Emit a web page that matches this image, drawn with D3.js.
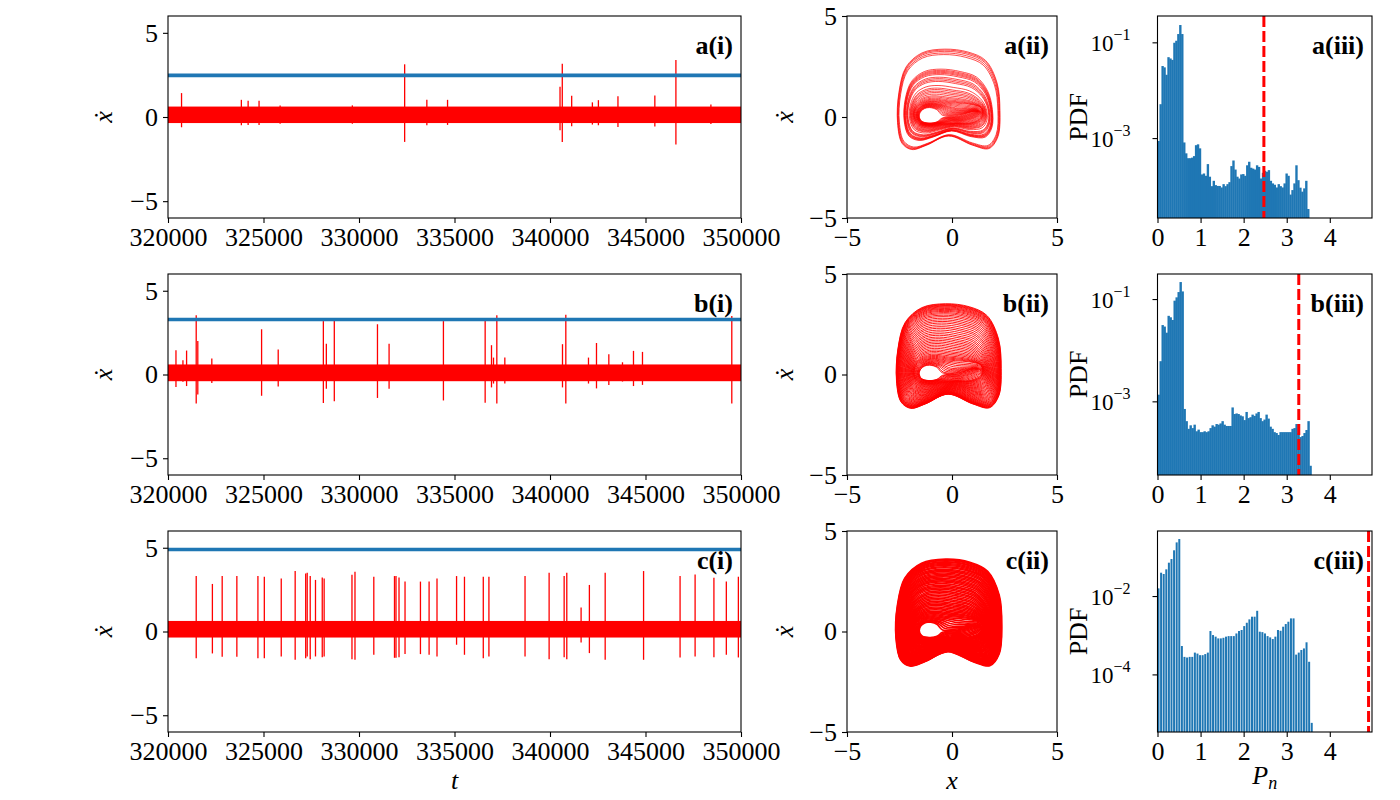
<!DOCTYPE html>
<html>
<head>
<meta charset="utf-8">
<script src="https://cdn.jsdelivr.net/npm/d3@7"></script>
<style>
  body { margin: 0; background: #fff; }
</style>
</head>
<body>
<div id="chart"></div>
<script>
var svgWidth = 1400;
var svgHeight = 800;

// ---- data ----
var rowNames = ["a", "b", "c"];
var tRange = [320000, 350000];
var tTicks = [320000, 325000, 330000, 335000, 340000, 345000, 350000];
var xdotTicks = [-5, 0, 5];
var pnTicks = [0, 1, 2, 3, 4];

// threshold: blue line in (i), dashed red line in (iii)
var thresholds = [2.47, 3.28, 4.9];
// the dense small oscillation of x-dot
var bandLow = [-0.36, -0.4, -0.36];
var bandHigh = [0.62, 0.6, 0.63];

// spikes (time, max, min) in each time series
var spikeTimesA = [320709, 323841, 324195, 324767, 325870, 329652, 332390, 333552, 334636, 340525, 340643, 341135, 342219, 342534, 343558, 345489, 346592, 348424];
var spikeHighA = [1.42, 1.02, 0.96, 0.96, 0.69, 0.69, 3.13, 1.02, 1.02, 1.79, 3.17, 1.26, 0.87, 1.0, 1.24, 1.28, 3.39, 0.75];
var spikeLowA = [-0.61, -0.49, -0.47, -0.47, -0.4, -0.4, -1.48, -0.49, -0.47, -0.79, -1.48, -0.55, -0.45, -0.49, -0.59, -0.57, -1.63, -0.42];

var spikeTimesB = [320417, 320782, 320973, 321477, 321560, 322294, 324900, 325770, 328134, 328290, 328707, 330967, 331575, 334420, 336605, 336937, 337042, 337216, 337635, 340654, 340828, 342015, 342434, 343080, 343795, 344371, 344842, 349518];
var spikeHighB = [1.45, 0.85, 1.43, 3.53, 2.0, 0.95, 2.7, 1.5, 3.19, 1.84, 3.19, 3.0, 1.84, 3.19, 3.23, 1.75, 1.01, 3.53, 1.01, 1.81, 3.57, 1.01, 1.88, 1.21, 0.73, 1.41, 1.35, 3.49];
var spikeLowB = [-0.74, -0.43, -0.69, -1.73, -1.2, -0.5, -1.27, -0.71, -1.7, -0.85, -1.6, -1.4, -0.85, -1.55, -1.69, -0.77, -0.54, -1.73, -0.54, -0.77, -1.73, -0.54, -0.83, -0.62, -0.42, -0.69, -0.62, -1.73];

var spikeTimesC = [321477, 322324, 322837, 323605, 324708, 325043, 325929, 326658, 327209, 327288, 327446, 327722, 328076, 328175, 329632, 329790, 330775, 331858, 331937, 332095, 332410, 333217, 333670, 334084, 335108, 335522, 336507, 336802, 338693, 339954, 340741, 340879, 341628, 342062, 342889, 344899, 346810, 347597, 348582, 349232, 349862];
var spikeHighC = [3.31, 2.84, 3.31, 3.31, 3.31, 3.27, 3.17, 3.61, 3.47, 3.51, 3.31, 3.08, 3.23, 3.17, 3.39, 3.57, 3.27, 3.31, 3.31, 3.23, 2.98, 2.98, 2.98, 3.17, 3.31, 3.27, 3.27, 3.27, 3.31, 3.51, 3.31, 3.51, 1.43, 2.78, 3.51, 3.61, 3.31, 3.41, 3.21, 2.98, 3.27];
var spikeLowC = [-1.59, -1.31, -1.5, -1.5, -1.59, -1.59, -1.49, -1.69, -1.59, -1.49, -1.65, -1.49, -1.53, -1.49, -1.65, -1.69, -1.39, -1.57, -1.57, -1.53, -1.35, -1.35, -1.39, -1.49, -0.79, -1.39, -1.59, -1.49, -1.49, -1.65, -1.53, -1.65, -0.65, -1.29, -1.69, -1.69, -1.55, -1.49, -1.53, -1.39, -1.55];

// phase portrait: three reference cycles (x, x-dot) and their peak x-dot
var coreLoop = [[-1.0, 0.46], [-0.72, 0.36], [-0.45, 0.08], [0.3, 0.08], [1.0, 0.26], [1.22, 0.28], [1.0, 0.22], [0.3, 0.04],
  [-0.45, -0.04], [-0.72, -0.24], [-1.1, -0.3], [-1.45, -0.2], [-1.56, 0.05], [-1.48, 0.28], [-1.3, 0.42], [-1.15, 0.46]];
var innerLoop = [[-0.8, 0.8], [-0.2, 0.72], [0.5, 0.66], [1.0, 0.6], [1.35, 0.48], [1.45, 0.2], [1.3, -0.1], [0.8, -0.3],
  [0.2, -0.3], [-0.4, -0.35], [-1.0, -0.45], [-1.55, -0.35], [-1.78, 0.0], [-1.75, 0.35], [-1.5, 0.65], [-1.15, 0.78]];
var outerLoop = [[-0.3, 3.6], [0.85, 3.45], [1.7, 3.0], [2.25, 1.8], [2.37, 0.3], [2.25, -1.1], [1.8, -1.7], [1.0, -1.5],
  [-0.2, -1.0], [-1.3, -1.5], [-2.0, -1.72], [-2.45, -1.4], [-2.67, -0.3], [-2.6, 1.3], [-2.25, 2.65], [-1.45, 3.4]];
var loopPeaks = [0.46, 0.8, 3.6];

// peak x-dot of the cycles seen in each phase portrait
var orbitPeaksA = [3.36, 3.31, 3.25, 3.17, 3.09, 2.37, 2.31, 2.26, 2.21, 2.16, 2.1, 1.97, 1.9, 1.83, 1.76, 1.56, 1.43, 1.36, 1.28, 1.21,
  1.13, 1.05, 0.99, 0.93, 0.88, 0.84, 0.8, 0.77, 0.74, 0.71, 0.68, 0.66, 0.64, 0.62, 0.6, 0.58, 0.56, 0.54, 0.52, 0.5, 0.48, 0.46];
var orbitPeaksB = [3.52, 3.49, 3.46, 3.43, 3.4, 3.36, 3.32, 3.28, 3.24, 3.19, 3.14, 3.08, 3.02, 2.95, 2.88, 2.8, 2.72, 2.64, 2.56, 2.47,
  2.38, 2.3, 2.21, 2.12, 2.03, 1.95, 1.86, 1.78, 1.7, 1.62, 1.54, 1.46, 1.38, 1.3, 1.22, 1.15, 1.08, 1.01, 0.95, 0.9,
  0.85, 0.8, 0.76, 0.72, 0.68, 0.64, 0.6, 0.57, 0.54, 0.51, 0.48, 0.46];
var orbitPeaksC = [3.6, 3.56, 3.52, 3.47, 3.43, 3.38, 3.33, 3.28, 3.22, 3.17, 3.1, 3.04, 2.98, 2.91, 2.85, 2.78, 2.72, 2.65, 2.58, 2.52,
  2.46, 2.38, 2.3, 2.24, 2.17, 2.1, 2.02, 1.95, 1.88, 1.8, 1.73, 1.65, 1.58, 1.5, 1.43, 1.36, 1.29, 1.22, 1.15, 1.08,
  1.01, 0.95, 0.89, 0.83, 0.78, 0.73, 0.68, 0.63, 0.58, 0.54, 0.5, 0.46];

// histograms of P_n (PDF per bin)
var binWidths = [0.0457, 0.0464, 0.0603];
var pdfA = [8.7e-4, 5.1e-3, 0.032, 0.030, 0.021, 0.049, 0.046, 0.043, 0.098, 0.108, 0.149, 0.23, 0.149, 8.1e-4, 4.8e-4, 3.8e-4,
  3.8e-4, 3.9e-4, 4.2e-4, 7.1e-4, 7.4e-4, 6.1e-4, 1.74e-4, 1.82e-4, 1.63e-4, 2.86e-4, 1.56e-4, 9.9e-5, 1.28e-4, 1.04e-4,
  1.0e-4, 1.0e-4, 9.3e-5, 1.09e-4, 9.9e-5, 1.09e-4, 1.2e-4, 2.6e-4, 3.4e-4, 2.2e-4, 1.56e-4, 1.43e-4, 1.74e-4, 1.77e-4,
  1.63e-4, 2.7e-4, 3.2e-4, 2.4e-4, 2.3e-4, 2.2e-4, 2.7e-4, 2.5e-4, 1.43e-4, 1.88e-4, 2.07e-4, 1.98e-4, 2.14e-4, 1.28e-4,
  1.13e-4, 1.06e-4, 9.3e-5, 1.09e-4, 9.9e-5, 9.3e-5, 1.13e-4, 1.82e-4, 1.63e-4, 6.6e-5, 8.2e-5, 1.13e-4, 2.7e-4, 1.32e-4,
  9.2e-5, 7.6e-5, 8.9e-5, 1.28e-4, 3.3e-5];
var pdfB = [1.35e-3, 6.1e-3, 0.031, 0.029, 0.022, 0.047, 0.044, 0.039, 0.093, 0.108, 0.137, 0.215, 0.141, 7.1e-4, 4.1e-4, 2.9e-4,
  3.4e-4, 3.0e-4, 3.5e-4, 2.6e-4, 2.8e-4, 2.5e-4, 2.5e-4, 2.6e-4, 2.5e-4, 2.6e-4, 3.0e-4, 3.4e-4, 3.2e-4, 3.6e-4, 3.5e-4,
  3.7e-4, 4.1e-4, 3.5e-4, 3.3e-4, 3.3e-4, 3.3e-4, 7.6e-4, 5.65e-4, 5.8e-4, 5.65e-4, 5.3e-4, 5.1e-4, 4.3e-4, 6.2e-4, 4.7e-4,
  4.9e-4, 5.5e-4, 5.2e-4, 5.8e-4, 6.2e-4, 4.7e-4, 4.1e-4, 4.4e-4, 5.5e-4, 4.6e-4, 3.2e-4, 2.9e-4, 2.5e-4, 2.4e-4, 2.2e-4,
  2.5e-4, 2.5e-4, 2.5e-4, 2.5e-4, 2.5e-4, 2.5e-4, 2.9e-4, 3.0e-4, 3.6e-4, 2.4e-4, 2.0e-4, 2.1e-4, 2.4e-4, 2.75e-4, 4.1e-4,
  5.5e-5];
var pdfC = [0.0157, 0.0394, 0.0365, 0.048, 0.071, 0.088, 0.147, 0.234, 0.285, 5.3e-4, 2.8e-4, 2.7e-4, 2.8e-4, 2.8e-4, 3.6e-4,
  3.4e-4, 3.1e-4, 3.1e-4, 3.3e-4, 3.6e-4, 1.28e-3, 1.01e-3, 9.2e-4, 8.3e-4, 8.3e-4, 8.6e-4, 9.2e-4, 9.5e-4, 9.5e-4, 9.5e-4,
  1.11e-3, 1.28e-3, 1.36e-3, 1.71e-3, 2.08e-3, 2.54e-3, 2.97e-3, 2.97e-3, 4.2e-3, 1.23e-3, 1.2e-3, 1.11e-3, 9.5e-4, 8.8e-4,
  8.0e-4, 9.2e-4, 1.36e-3, 1.3e-3, 1.65e-3, 1.93e-3, 2.21e-3, 2.69e-3, 2.69e-3, 3.2e-4, 3.6e-4, 4.2e-4, 4.6e-4, 6.6e-4,
  2.1e-4, 5.8e-6];
var pdfDomains = [[2.14e-5, 0.355], [3.63e-5, 0.309], [3.39e-6, 0.457]];
var pdfTicks = [[1e-1, 1e-3], [1e-1, 1e-3], [1e-2, 1e-4]];

var spikeTimes = [spikeTimesA, spikeTimesB, spikeTimesC];
var spikeHigh = [spikeHighA, spikeHighB, spikeHighC];
var spikeLow = [spikeLowA, spikeLowB, spikeLowC];
var orbitPeaks = [orbitPeaksA, orbitPeaksB, orbitPeaksC];
var pdfs = [pdfA, pdfB, pdfC];
var loops = [coreLoop, innerLoop, outerLoop];

// ---- layout ----
var cols = [[168, 741], [847, 1057], [1157.5, 1372]];
var rowsY = [[16, 218], [274, 475], [531, 732]];
var fontFamily = '"Liberation Serif", "DejaVu Serif", serif';
var blue = "#1f77b4";
var red = "#ff0000";
var orbitWidths = [0.7, 0.9, 1.6];
var barGaps = [-0.4, -0.4, 0.6];

var svg = d3.select("#chart")
  .append("svg")
  .attr("width", svgWidth)
  .attr("height", svgHeight)
  .style("background", "#fff");

var clipCount = 0;
function addClip(x0, x1, y0, y1) {
  var id = "clip" + (clipCount++);
  svg.append("clipPath").attr("id", id)
    .append("rect")
    .attr("x", x0).attr("y", y0)
    .attr("width", x1 - x0).attr("height", y1 - y0);
  return "url(#" + id + ")";
}

function styleAxis(g) {
  g.select(".domain").remove();
  g.attr("font-family", fontFamily).attr("font-size", 26);
  g.selectAll("line").attr("stroke", "#000").attr("stroke-width", 1.1);
  g.selectAll("text").attr("fill", "#000");
}

function frame(x0, x1, y0, y1) {
  svg.append("rect")
    .attr("x", x0).attr("y", y0)
    .attr("width", x1 - x0).attr("height", y1 - y0)
    .attr("fill", "none")
    .attr("stroke", "#000")
    .attr("stroke-width", 1.1);
}

function panelLabel(text, x1, y0) {
  svg.append("text")
    .attr("x", x1 - 8)
    .attr("y", y0 + 38)
    .attr("text-anchor", "end")
    .attr("font-family", fontFamily)
    .attr("font-weight", "bold")
    .attr("font-size", 26)
    .text(text);
}

function yLabel(text, x, yc, italic) {
  svg.append("text")
    .attr("transform", `translate(${x}, ${yc}) rotate(-90)`)
    .attr("text-anchor", "middle")
    .attr("font-family", fontFamily)
    .attr("font-size", 26)
    .style("font-style", italic ? "italic" : "normal")
    .text(text);
}

// cycle with a given peak x-dot, between the reference cycles
function cycleAt(peak) {
  var i = peak <= loopPeaks[1] ? 0 : 1;
  var s = (peak - loopPeaks[i]) / (loopPeaks[i + 1] - loopPeaks[i]);
  s = Math.max(0, Math.min(1, s));
  return loops[i].map(function(p, k) {
    var q = loops[i + 1][k];
    return [p[0] + s * (q[0] - p[0]), p[1] + s * (q[1] - p[1])];
  });
}

rowNames.forEach(function(name, r) {
  var y0 = rowsY[r][0], y1 = rowsY[r][1];
  var yc = (y0 + y1) / 2;

  // (i) time series
  var xT = d3.scaleLinear().domain(tRange).range(cols[0]);
  var yT = d3.scaleLinear().domain([-6, 6]).range([y1, y0]);
  var gT = svg.append("g").attr("clip-path", addClip(cols[0][0], cols[0][1], y0, y1));

  gT.append("rect")
    .attr("x", xT(tRange[0]))
    .attr("width", xT(tRange[1]) - xT(tRange[0]))
    .attr("y", yT(bandHigh[r]))
    .attr("height", yT(bandLow[r]) - yT(bandHigh[r]))
    .attr("fill", red);

  gT.selectAll(".spike")
    .data(spikeTimes[r])
    .enter()
    .append("line")
    .attr("x1", d => xT(d))
    .attr("x2", d => xT(d))
    .attr("y1", (d, i) => yT(spikeHigh[r][i]))
    .attr("y2", (d, i) => yT(spikeLow[r][i]))
    .attr("stroke", red)
    .attr("stroke-width", 1.3);

  gT.append("line")
    .attr("x1", cols[0][0]).attr("x2", cols[0][1])
    .attr("y1", yT(thresholds[r])).attr("y2", yT(thresholds[r]))
    .attr("stroke", blue)
    .attr("stroke-width", 3.6);

  svg.append("g")
    .attr("transform", `translate(0, ${y1})`)
    .call(d3.axisBottom(xT).tickValues(tTicks).tickFormat(d3.format("d")).tickSize(5).tickPadding(5))
    .call(styleAxis);
  svg.append("g")
    .attr("transform", `translate(${cols[0][0]}, 0)`)
    .call(d3.axisLeft(yT).tickValues(xdotTicks).tickSize(5).tickPadding(5))
    .call(styleAxis);
  frame(cols[0][0], cols[0][1], y0, y1);
  panelLabel(name + "(i)", cols[0][1], y0);
  yLabel("ẋ", 112, yc, true);

  // (ii) phase portrait
  var xP = d3.scaleLinear().domain([-5, 5]).range(cols[1]);
  var yP = d3.scaleLinear().domain([-5, 5]).range([y1, y0]);
  var gP = svg.append("g").attr("clip-path", addClip(cols[1][0], cols[1][1], y0, y1));
  var cycleLine = d3.line()
    .x(d => xP(d[0]))
    .y(d => yP(d[1]))
    .curve(d3.curveCatmullRomClosed.alpha(0.5));

  gP.selectAll(".orbit")
    .data(orbitPeaks[r])
    .enter()
    .append("path")
    .attr("d", d => cycleLine(cycleAt(d)))
    .attr("fill", "none")
    .attr("stroke", red)
    .attr("stroke-width", orbitWidths[r]);

  svg.append("g")
    .attr("transform", `translate(0, ${y1})`)
    .call(d3.axisBottom(xP).tickValues(xdotTicks).tickSize(5).tickPadding(5))
    .call(styleAxis);
  svg.append("g")
    .attr("transform", `translate(${cols[1][0]}, 0)`)
    .call(d3.axisLeft(yP).tickValues(xdotTicks).tickSize(5).tickPadding(5))
    .call(styleAxis);
  frame(cols[1][0], cols[1][1], y0, y1);
  panelLabel(name + "(ii)", cols[1][1], y0);
  yLabel("ẋ", 793, yc, true);

  // (iii) histogram of P_n
  var xH = d3.scaleLinear().domain([0, 4.98]).range(cols[2]);
  var yH = d3.scaleLog().domain(pdfDomains[r]).range([y1, y0]);
  var gH = svg.append("g").attr("clip-path", addClip(cols[2][0], cols[2][1], y0, y1));
  var bw = binWidths[r];

  gH.selectAll(".bar")
    .data(pdfs[r])
    .enter()
    .append("rect")
    .attr("x", (d, i) => xH(i * bw))
    .attr("width", (d, i) => xH((i + 1) * bw) - xH(i * bw) - barGaps[r])
    .attr("y", d => yH(d))
    .attr("height", d => y1 - yH(d))
    .attr("fill", blue);

  gH.append("line")
    .attr("x1", xH(thresholds[r])).attr("x2", xH(thresholds[r]))
    .attr("y1", y0).attr("y2", y1)
    .attr("stroke", red)
    .attr("stroke-width", 3)
    .attr("stroke-dasharray", "11,4");

  svg.append("g")
    .attr("transform", `translate(0, ${y1})`)
    .call(d3.axisBottom(xH).tickValues(pnTicks).tickFormat(d3.format("d")).tickSize(5).tickPadding(5))
    .call(styleAxis);
  svg.append("g")
    .attr("transform", `translate(${cols[2][0]}, 0)`)
    .call(d3.axisLeft(yH).tickValues(pdfTicks[r]).tickFormat(() => "").tickSize(5))
    .call(styleAxis);

  var logLabels = svg.append("g")
    .attr("font-family", fontFamily)
    .selectAll("text")
    .data(pdfTicks[r])
    .enter()
    .append("text")
    .attr("x", cols[2][0] - 27)
    .attr("y", d => yH(d) + 9)
    .attr("text-anchor", "end");
  logLabels.append("tspan").attr("font-size", 23).text("10");
  logLabels.append("tspan")
    .attr("font-size", 16)
    .attr("dy", -11)
    .text(d => "−" + Math.round(-Math.log10(d)));

  frame(cols[2][0], cols[2][1], y0, y1);
  panelLabel(name + "(iii)", cols[2][1], y0);
  yLabel("PDF", 1087, yc, false);
});

// bottom axis titles
svg.append("text")
  .attr("x", (cols[0][0] + cols[0][1]) / 2).attr("y", 789)
  .attr("text-anchor", "middle")
  .attr("font-family", fontFamily).attr("font-size", 26)
  .style("font-style", "italic")
  .text("t");
svg.append("text")
  .attr("x", (cols[1][0] + cols[1][1]) / 2).attr("y", 789)
  .attr("text-anchor", "middle")
  .attr("font-family", fontFamily).attr("font-size", 26)
  .style("font-style", "italic")
  .text("x");
var pnTitle = svg.append("text")
  .attr("x", (cols[2][0] + cols[2][1]) / 2).attr("y", 784)
  .attr("text-anchor", "middle")
  .attr("font-family", fontFamily).attr("font-size", 26);
pnTitle.append("tspan").style("font-style", "italic").text("P");
pnTitle.append("tspan").style("font-style", "italic").attr("font-size", 18).attr("dy", 5).text("n");
</script>
</body>
</html>
